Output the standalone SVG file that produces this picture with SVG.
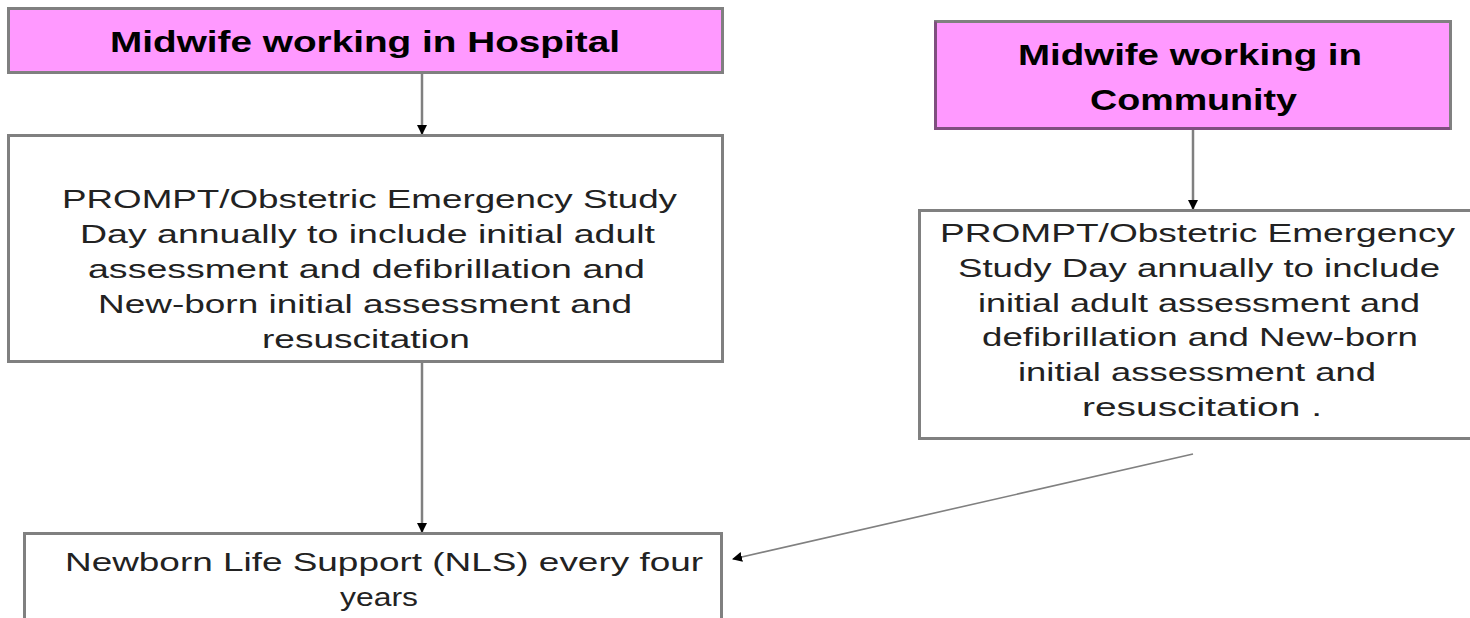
<svg xmlns="http://www.w3.org/2000/svg" width="1470" height="618" viewBox="0 0 1470 618">
<style>
.box{fill:#ffffff;stroke:#808080;stroke-width:3}
.pink{fill:#ff99ff;stroke:#808080;stroke-width:3}
.edge{stroke:#7f4f7f;stroke-width:3;fill:none}
.title{font-family:"Liberation Sans",Arial,sans-serif;font-weight:bold;font-size:30px;fill:#000}
.body{font-family:"Liberation Sans",Arial,sans-serif;font-size:25px;fill:#222}
.conn{stroke:#808080;stroke-width:2.5;fill:none}
.diag{stroke:#808080;stroke-width:1.6;fill:none}
</style>
<defs>
<marker id="ah" markerUnits="userSpaceOnUse" markerWidth="12" markerHeight="10" refX="9" refY="5" orient="auto">
<path d="M0,0 L10,5 L0,10 Z" fill="#000"/>
</marker>
</defs>
<rect width="1470" height="618" fill="#fff"/>
<g id="connectors">
<line class="conn" x1="422" y1="74" x2="422" y2="134" marker-end="url(#ah)"/>
<line class="conn" x1="422" y1="363" x2="422" y2="532" marker-end="url(#ah)"/>
<line class="conn" x1="1193" y1="130" x2="1193" y2="209" marker-end="url(#ah)"/>
<line class="diag" x1="1193" y1="454" x2="733" y2="559" marker-end="url(#ah)"/>
</g>
<g id="hospital">
<rect class="pink" x="8.5" y="8.5" width="714" height="64"/>
<text class="title" x="110" y="52" textLength="510" lengthAdjust="spacingAndGlyphs">Midwife working in Hospital</text>
</g>
<g id="hospital-study">
<rect class="box" x="8.5" y="135.5" width="714" height="226"/>
<text class="body" x="62" y="208" textLength="615" lengthAdjust="spacingAndGlyphs">PROMPT/Obstetric Emergency Study</text>
<text class="body" x="80" y="243" textLength="575" lengthAdjust="spacingAndGlyphs">Day annually  to include initial adult</text>
<text class="body" x="88" y="278" textLength="557" lengthAdjust="spacingAndGlyphs">assessment and  defibrillation and</text>
<text class="body" x="98" y="313" textLength="534" lengthAdjust="spacingAndGlyphs">New-born initial assessment and</text>
<text class="body" x="262" y="348" textLength="208" lengthAdjust="spacingAndGlyphs">resuscitation</text>
</g>
<g id="community">
<rect class="pink" x="935.5" y="21.5" width="515" height="107"/>
<path class="edge" d="M935.5,21.5 V128.5 H1450"/>
<text class="title" x="1018" y="65" textLength="344" lengthAdjust="spacingAndGlyphs">Midwife working in</text>
<text class="title" x="1090" y="110" textLength="207" lengthAdjust="spacingAndGlyphs">Community</text>
</g>
<g id="community-study">
<rect class="box" x="919.5" y="210.5" width="560" height="228"/>
<text class="body" x="940" y="242" textLength="515" lengthAdjust="spacingAndGlyphs">PROMPT/Obstetric Emergency</text>
<text class="body" x="958" y="277" textLength="482" lengthAdjust="spacingAndGlyphs">Study Day annually  to include</text>
<text class="body" x="978" y="312" textLength="442" lengthAdjust="spacingAndGlyphs">initial adult assessment and</text>
<text class="body" x="982" y="346" textLength="436" lengthAdjust="spacingAndGlyphs">defibrillation and  New-born</text>
<text class="body" x="1018" y="381" textLength="358" lengthAdjust="spacingAndGlyphs">initial  assessment and</text>
<text class="body" x="1082" y="416" textLength="240" lengthAdjust="spacingAndGlyphs">resuscitation .</text>
</g>
<g id="nls">
<rect class="box" x="24.5" y="533.5" width="697" height="100"/>
<text class="body" x="65" y="571" textLength="638" lengthAdjust="spacingAndGlyphs">Newborn Life Support (NLS) every four</text>
<text class="body" x="340" y="606" textLength="78" lengthAdjust="spacingAndGlyphs">years</text>
</g>
</svg>
